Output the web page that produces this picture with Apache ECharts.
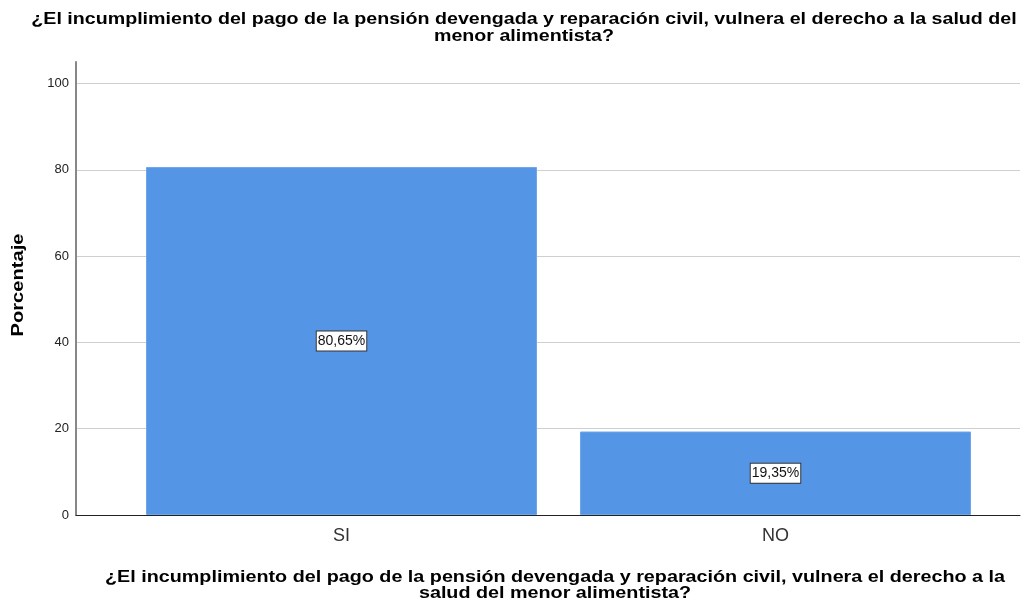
<!DOCTYPE html>
<html><head><meta charset="utf-8">
<script src="https://cdn.jsdelivr.net/npm/echarts@6/dist/echarts.min.js"></script>
<style>html,body{margin:0;padding:0;background:#fff}#c{width:1032px;height:604px}</style>
</head><body><div id="c"></div>
<script>
const categories = ['SI', 'NO'];
const values = [80.65, 19.35];
const yTicks = [0, 20, 40, 60, 80, 100];
const titleText = '¿El incumplimiento del pago de la pensión devengada y reparación civil, vulnera el derecho a la salud del\nmenor alimentista?';
const xName = '¿El incumplimiento del pago de la pensión devengada y reparación civil, vulnera el derecho a la\nsalud del menor alimentista?';
const yName = 'Porcentaje';

const font = 'Liberation Sans, Arial, sans-serif';
const boldFont = 'bold 16.5px ' + font;
const chart = echarts.init(document.getElementById('c'), null, {renderer: 'canvas'});
chart.setOption({
  backgroundColor: '#ffffff',
  animation: false,
  graphic: [
    {type: 'text', x: 524, y: 27.5, scaleX: 1.19, silent: true,
     style: {text: titleText, font: boldFont, fill: '#000', textAlign: 'center', textVerticalAlign: 'middle', lineHeight: 17}},
    {type: 'text', x: 555, y: 585, scaleX: 1.197, silent: true,
     style: {text: xName, font: boldFont, fill: '#000', textAlign: 'center', textVerticalAlign: 'middle', lineHeight: 16}},
    {type: 'text', x: 18, y: 285, rotation: Math.PI / 2, scaleX: 1.22, silent: true,
     style: {text: yName, font: boldFont, fill: '#000', textAlign: 'center', textVerticalAlign: 'middle'}}
  ],
  grid: [
    {left: 76, right: 12, top: 62, bottom: 89},
    {left: 124.5, right: 39.5, top: 62, bottom: 89}
  ],
  xAxis: [
    {type: 'value', gridIndex: 0, min: 0, max: 1, axisLine: {show: true, onZero: false, lineStyle: {color: '#222', width: 1}}, axisTick: {show: false}, axisLabel: {show: false}, splitLine: {show: false}},
    {type: 'category', gridIndex: 1, data: categories, axisLine: {show: false}, axisTick: {show: false},
     axisLabel: {fontFamily: font, fontSize: 18, color: '#333', margin: 12}}
  ],
  yAxis: [
    {type: 'value', gridIndex: 0, min: 0, max: 105, interval: 20,
     axisLine: {show: true, lineStyle: {color: '#888', width: 2}}, axisTick: {show: false},
     axisLabel: {fontFamily: font, fontSize: 13, color: '#222', margin: 7, formatter: v => yTicks.includes(v) ? String(v) : ''},
     splitLine: {show: true, showMaxLine: false, showMinLine: false, lineStyle: {color: '#cfcfcf', width: 1}}},
    {type: 'value', gridIndex: 1, min: 0, max: 105, show: false, splitLine: {show: false}}
  ],
  series: [{
    type: 'bar', xAxisIndex: 1, yAxisIndex: 1, data: values, barWidth: 391,
    itemStyle: {color: '#5595e5', borderColor: '#6fa6ea', borderWidth: 1},
    label: {show: true, position: 'inside', formatter: p => p.value.toFixed(2).replace('.', ',') + '%',
      fontFamily: font, fontSize: 14, color: '#111', backgroundColor: '#fff', borderColor: '#333', borderWidth: 1, padding: [3, 1, 2, 1]}
  }]
});
</script></body></html>
